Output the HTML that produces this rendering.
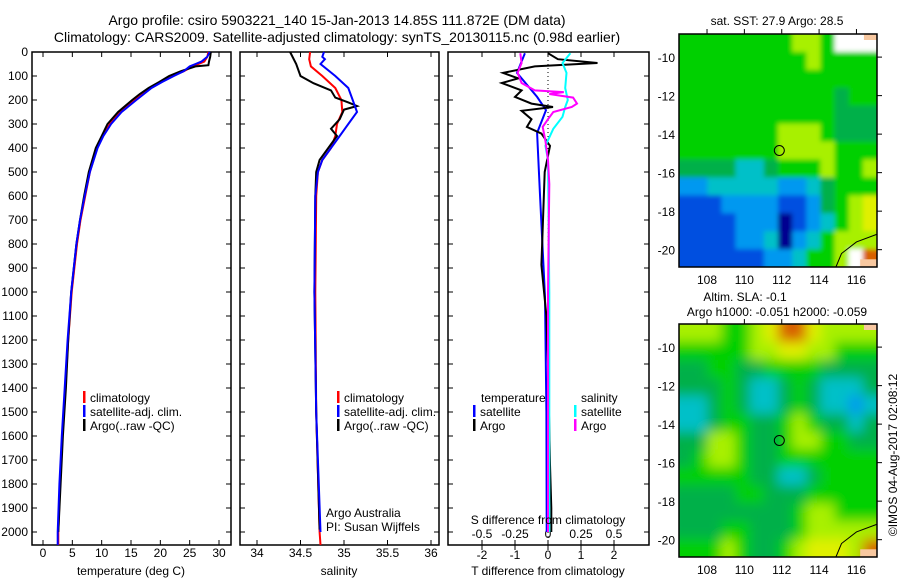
<!DOCTYPE html>
<html><head><meta charset="utf-8">
<style>
body{margin:0;background:#fff;}
svg{display:block;font-family:"Liberation Sans",sans-serif;}
text{font-size:12px;fill:#000;}
</style></head>
<body>
<svg id="c" width="900" height="580" viewBox="0 0 900 580">
<defs>
<filter id="blurSla" x="-5%" y="-5%" width="110%" height="110%"><feGaussianBlur stdDeviation="6"/></filter>
<filter id="blurSst" x="-5%" y="-5%" width="110%" height="110%"><feGaussianBlur stdDeviation="2.5"/></filter>
<clipPath id="clipSst"><rect x="679" y="34" width="198" height="233"/></clipPath>
<clipPath id="clipSla"><rect x="679" y="324" width="198" height="233"/></clipPath>
</defs>
<text x="337" y="25" text-anchor="middle" style="font-size:14px">Argo profile: csiro 5903221_140 15-Jan-2013 14.85S 111.872E (DM data)</text>
<text x="337" y="42" text-anchor="middle" style="font-size:14px">Climatology: CARS2009. Satellite-adjusted climatology: synTS_20130115.nc (0.98d earlier)</text>
</svg>
<script>
// ---------- data ----------
const depthAxisTicks = [0,100,200,300,400,500,600,700,800,900,1000,1100,1200,1300,1400,1500,1600,1700,1800,1900,2000];
const tempTicks = [0,5,10,15,20,25,30];
const salTicks = [34,34.5,35,35.5,36];
const tdTicks = [-2,-1,0,1,2];
const sdTicks = [-0.5,-0.25,0,0.25,0.5];

const depthT = [0,20,40,50,60,80,100,125,150,175,200,250,300,350,400,500,600,700,800,1000,1200,1400,1600,1800,2000,2054];
const tempClim = [28.2,28,27.5,26.5,25.5,24,22,20,18.2,17,15.6,13.2,11.4,10.2,9.2,8,7.2,6.4,5.8,4.9,4.3,3.8,3.3,2.9,2.6,2.6];
const tempSat = [28.4,28,27,26,25,24,22.3,20.3,18.5,17.2,15.9,13.4,11.6,10.3,9.3,8,7.1,6.3,5.7,4.8,4.2,3.7,3.2,2.8,2.5,2.5];
const depthArgoT = [0,20,40,55,60,80,100,125,150,175,200,250,300,350,400,500,600,700,800,1000,1200,1400,1600,1800,2000];
const tempArgo = [28.6,28.5,28.3,28.2,26,23.5,21.5,19.8,18,16.5,15.2,12.8,11,10,9,7.8,7,6.3,5.7,4.8,4.3,3.9,3.4,3.0,2.6];

const depthS = [0,30,60,100,150,200,250,300,350,400,450,500,600,1000,1500,2000,2054];
const salClim = [34.61,34.6,34.62,34.75,34.9,34.97,34.98,34.92,34.9,34.85,34.75,34.7,34.68,34.67,34.68,34.72,34.73];
const depthSatS = [0,20,30,50,100,150,200,250,300,350,400,450,500,600,1000,1500,2000];
const salSat = [34.77,34.75,34.78,34.73,34.9,35.05,35.1,35.15,35.05,34.95,34.85,34.75,34.7,34.67,34.66,34.68,34.73];
const depthArgoS = [0,50,100,130,160,190,210,225,240,280,320,350,400,450,500,600,1000,1500,1990];
const salArgo = [34.38,34.45,34.5,34.65,34.85,34.9,35.05,35.15,35.0,34.95,34.85,34.92,34.82,34.72,34.68,34.67,34.66,34.68,34.72];

const depthTdSat = [5,87,187,242,337,604,1020,1500,2000];
const tdSat = [-0.7,-0.94,-0.33,-0.06,-0.33,-0.24,-0.09,-0.05,-0.04];
const depthTdArgo = [5,30,46,60,87,110,129,160,187,215,229,245,280,312,340,391,500,700,887,1100,1300,1720,1900,2000];
const tdArgo = [0,0.3,1.5,-0.4,-1.36,-0.9,-1.4,-0.8,-1.0,-0.5,0.15,-0.8,-0.5,-0.64,-0.2,0.06,-0.1,-0.15,-0.2,-0.05,0,0.06,0.1,0.1];
const depthSdSat = [5,46,87,150,200,229,270,320,391,450,1000,2000];
const sdSat = [0.17,0.11,0.14,0.13,0.15,0.13,0.11,0.04,-0.02,0,0.01,0.01];
const depthSdArgo = [5,46,87,129,160,167,175,190,215,229,250,280,312,370,450,550,1000,2000];
const sdArgo = [-0.21,-0.2,-0.23,-0.2,-0.1,0.12,0.01,0.19,0.22,0.18,0.04,0,-0.04,-0.02,0,0.01,0,0];

// map grids (colour level per ~1 deg cell), row 0 = north
const sstGrid = [
[5,5,5,5,5,5,5,5,6,6,5,-1,-1,-1],
[5,5,5,5,5,5,5,5,5,6,5,5,5,5],
[5,5,5,5,5,5,5,5,5,5,5,5,5,5],
[5,5,5,5,5,5,5,5,5,5,5,4,5,5],
[5,5,5,5,5,5,5,5,5,5,5,4,4,4],
[5,5,5,5,5,5,5,6,6,6,5,4,4,4],
[5,5,5,5,5,5,5,6,6,6,6,5,5,5],
[4,4,4,4,3,3,4,5,5,5,6,5,5,6],
[2,2,3,3,3,3,3,2,2,3,4,5,5,5],
[1,1,1,2,2,2,2,1,1,2,4,5,6,7],
[1,1,1,1,2,2,2,0,1,2,3,5,6,7],
[1,1,1,1,2,2,3,0,2,3,5,6,6,6],
[1,1,1,1,1,1,2,2,3,5,5,6,-1,8]];
const slaGrid = [
[6,6,6,5,5,6,7,8,8,7,6,6,6,6],
[5,5,5,5,5,6,6,7,7,6,6,5,5,5],
[4,4,5,5,4,4,5,5,5,5,4,4,4,4],
[4,4,4,5,4,3,3,4,5,4,3,3,3,4],
[3,3,4,5,4,3,3,4,5,4,3,3,2,3],
[3,3,4,5,5,4,4,5,6,5,4,4,3,4],
[4,4,6,6,5,4,4,5,6,6,5,5,4,4],
[4,5,6,6,5,4,4,5,5,5,5,5,5,5],
[5,5,5,5,5,4,4,3,3,4,5,5,5,5],
[4,4,4,4,5,5,4,4,4,5,5,5,5,5],
[4,4,4,4,4,4,4,4,5,6,6,5,5,5],
[4,4,4,5,5,4,4,4,5,6,6,6,6,6],
[5,5,5,6,5,4,4,5,6,7,7,7,6,8]];
const lonTicks = [108,110,112,114,116];
const latTicks = [-10,-12,-14,-16,-18,-20];

// ---------- drawing ----------
const svg = document.getElementById('c');
const NS = 'http://www.w3.org/2000/svg';
function mk(tag, attrs, parent){const e=document.createElementNS(NS,tag);for(const k in attrs)e.setAttribute(k,attrs[k]);(parent||svg).appendChild(e);return e;}
function txt(x,y,s,anchor,parent){const t=mk('text',{x:x,y:y,'text-anchor':anchor||'start'},parent);t.textContent=s;return t;}

const pTop=52, pBot=545;
const yD = d => 52 + d*0.24;
const xT = t => 43 + t*5.867;
const xS = s => 257 + (s-34)*87;
const xTd = t => 548 + t*33;
const xSd = s => 548 + s*132;

function line(xs, ds, xf, color, w, name, parent){
  const pts = xs.map((v,i)=>xf(v).toFixed(1)+','+yD(ds[i]).toFixed(1)).join(' ');
  const p = mk('polyline',{points:pts,fill:'none',stroke:color,'stroke-width':w,'stroke-linejoin':'miter'},parent);
  
  
  return p;
}

function panel(x0,x1,name){
  const g = mk('g',{});
  
  
  mk('rect',{x:x0,y:pTop,width:x1-x0,height:pBot-pTop,fill:'#fff',stroke:'#000','stroke-width':1.5},g);
  depthAxisTicks.forEach(d=>{
    mk('line',{x1:x0,x2:x0+5,y1:yD(d),y2:yD(d),stroke:'#000'},g);
    mk('line',{x1:x1-5,x2:x1,y1:yD(d),y2:yD(d),stroke:'#000'},g);
  });
  return g;
}

// Panel 1 temperature
const p1 = panel(32,231,'temperature-panel');
depthAxisTicks.forEach(d=>{const t=txt(28,yD(d)+4,String(d),'end',p1);});
tempTicks.forEach(v=>{
  mk('line',{x1:xT(v),x2:xT(v),y1:pTop,y2:pTop+5,stroke:'#000'},p1);
  mk('line',{x1:xT(v),x2:xT(v),y1:pBot-5,y2:pBot,stroke:'#000'},p1);
  const t=txt(xT(v),557,String(v),'middle',p1);
  
  
});
txt(131,575,'temperature (deg C)','middle',p1);
line(tempClim,depthT,xT,'#f00',2,'temp-climatology-line',p1);
line(tempArgo,depthArgoT,xT,'#000',2,'temp-argo-line',p1);
line(tempSat,depthT,xT,'#00f',2,'temp-satellite-line',p1);

// Panel 2 salinity
const p2 = panel(240,439,'salinity-panel');
salTicks.forEach(v=>{
  mk('line',{x1:xS(v),x2:xS(v),y1:pTop,y2:pTop+5,stroke:'#000'},p2);
  mk('line',{x1:xS(v),x2:xS(v),y1:pBot-5,y2:pBot,stroke:'#000'},p2);
  const t=txt(xS(v),557,String(v),'middle',p2);
  
  
});
txt(339,575,'salinity','middle',p2);
line(salClim,depthS,xS,'#f00',2,'sal-climatology-line',p2);
line(salArgo,depthArgoS,xS,'#000',2,'sal-argo-line',p2);
line(salSat,depthSatS,xS,'#00f',2,'sal-satellite-line',p2);

// Panel 3 differences
const p3 = panel(448,649,'difference-panel');
mk('line',{x1:548,x2:548,y1:pTop,y2:pBot,stroke:'#000','stroke-dasharray':'1,3'},p3);
tdTicks.forEach(v=>{
  mk('line',{x1:xTd(v),x2:xTd(v),y1:pTop,y2:pTop+5,stroke:'#000'},p3);
  mk('line',{x1:xTd(v),x2:xTd(v),y1:pBot,y2:pBot+5,stroke:'#000'},p3);
  const t=txt(xTd(v),559,String(v),'middle',p3);
  
  
});
sdTicks.forEach(v=>{
  mk('line',{x1:xSd(v),x2:xSd(v),y1:pBot-5,y2:pBot,stroke:'#000'},p3);
  const t=txt(xSd(v),538,String(v),'middle',p3);
  
  
});
line(tdSat,depthTdSat,xTd,'#00f',2,'t-diff-satellite-line',p3);
line(tdArgo,depthTdArgo,xTd,'#000',2,'t-diff-argo-line',p3);
line(sdSat,depthSdSat,xSd,'#0ff',2,'s-diff-satellite-line',p3);
line(sdArgo,depthSdArgo,xSd,'#f0f',2,'s-diff-argo-line',p3);
txt(548,524,'S difference from climatology','middle',p3);
txt(548,575,'T difference from climatology','middle',p3);

// legends
function legendEntry(x,y,color,label,parent){
  const g=mk('g',{},parent);
  
  
  mk('rect',{x:x,y:y-11,width:2.5,height:12,fill:color},g);
  txt(x+7,y,label,'start',g);
}
[['#f00','climatology'],['#00f','satellite-adj. clim.'],['#000','Argo(..raw -QC)']].forEach((e,i)=>{
  legendEntry(83,402+i*14,e[0],e[1],p1);
  legendEntry(337,402+i*14,e[0],e[1],p2);
});
txt(481,402,'temperature','start',p3);
txt(581,402,'salinity','start',p3);
legendEntry(473,416,'#00f','satellite',p3);
legendEntry(473,430,'#000','Argo',p3);
legendEntry(574,416,'#0ff','satellite',p3);
legendEntry(574,430,'#f0f','Argo',p3);
txt(326,517,'Argo Australia','start',p2);
txt(326,531,'PI: Susan Wijffels','start',p2);

// maps
const palette = {0:'#000090',1:'#0050e0',2:'#0098f0',3:'#00c0c8',4:'#00b048',5:'#00d000',6:'#a8f000',7:'#e0f000',8:'#d86000','-1':'#ffffff'};
function drawMap(grid, y0, y1, name, land, filt, clip){
  const x0=679, x1=877;
  const lonL=106.5, lonR=117.1, latT=-8.8, latB=-20.9;
  const mx = lo => x0 + (lo-lonL)/(lonR-lonL)*(x1-x0);
  const my = la => y0 + (latT-la)/(latT-latB)*(y1-y0);
  const g=mk('g',{});
  
  
  const cg=mk('g',{'clip-path':'url(#'+clip+')'},g);
  const fg=mk('g',{filter:'url(#'+filt+')'},cg);
  const rows=grid.length, cols=grid[0].length;
  const cw=(x1-x0)/cols, ch=(y1-y0)/rows;
  grid.forEach((row,r)=>row.forEach((v,c)=>{
    // extend edge cells outward so blur does not fade at borders
    const ex0 = c===0 ? -12 : 0, ex1 = c===cols-1 ? 12 : 0;
    const ey0 = r===0 ? -12 : 0, ey1 = r===rows-1 ? 12 : 0;
    const cell=mk('rect',{x:(x0+c*cw+ex0).toFixed(2),y:(y0+r*ch+ey0).toFixed(2),width:(cw+0.6-ex0+ex1).toFixed(2),height:(ch+0.6-ey0+ey1).toFixed(2),fill:palette[v]},fg);
    
    
  }));
  mk('path',{d:`M${x1},${my(-19.2)} L${mx(116)},${my(-19.6)} L${mx(115.2)},${my(-20.2)} L${mx(114.9)},${my(-20.9)}`,fill:'none',stroke:'#000','stroke-width':1},g);
  mk('rect',{x:mx(116.2),y:my(-20.5),width:x1-mx(116.2),height:y1-my(-20.5),fill:land},g);
  mk('rect',{x:mx(116.4),y:y0,width:x1-mx(116.4),height:6,fill:land},g);
  mk('rect',{x:x0,y:y0,width:x1-x0,height:y1-y0,fill:'none',stroke:'#000','stroke-width':1.5},g);
  lonTicks.forEach(v=>{
    mk('line',{x1:mx(v),x2:mx(v),y1:y0-5,y2:y0,stroke:'#000'},g);
    const t=txt(mx(v),y1+17,String(v),'middle',g);
    
    
  });
  latTicks.forEach(v=>{
    mk('line',{x1:x1,x2:x1+5,y1:my(v),y2:my(v),stroke:'#000'},g);
    const t=txt(675,my(v)+5,String(v),'end',g);
    
    
  });
  const m=mk('circle',{cx:mx(111.87),cy:my(-14.85),r:5,fill:'none',stroke:'#000','stroke-width':1},g);
  
  
}
drawMap(sstGrid,34,267,'sst-map','#f8c8a0','blurSst','clipSst');
drawMap(slaGrid,324,557,'sla-map','#f8c8a0','blurSla','clipSla');
txt(777,25,'sat. SST: 27.9 Argo: 28.5','middle');
txt(745,301,'Altim. SLA: -0.1','middle');
txt(777,316,'Argo h1000: -0.051 h2000: -0.059','middle');
const cr=txt(0,0,'©IMOS 04-Aug-2017 02:08:12','middle');
cr.setAttribute('transform','translate(897,455) rotate(-90)');


</script>
</body></html>
